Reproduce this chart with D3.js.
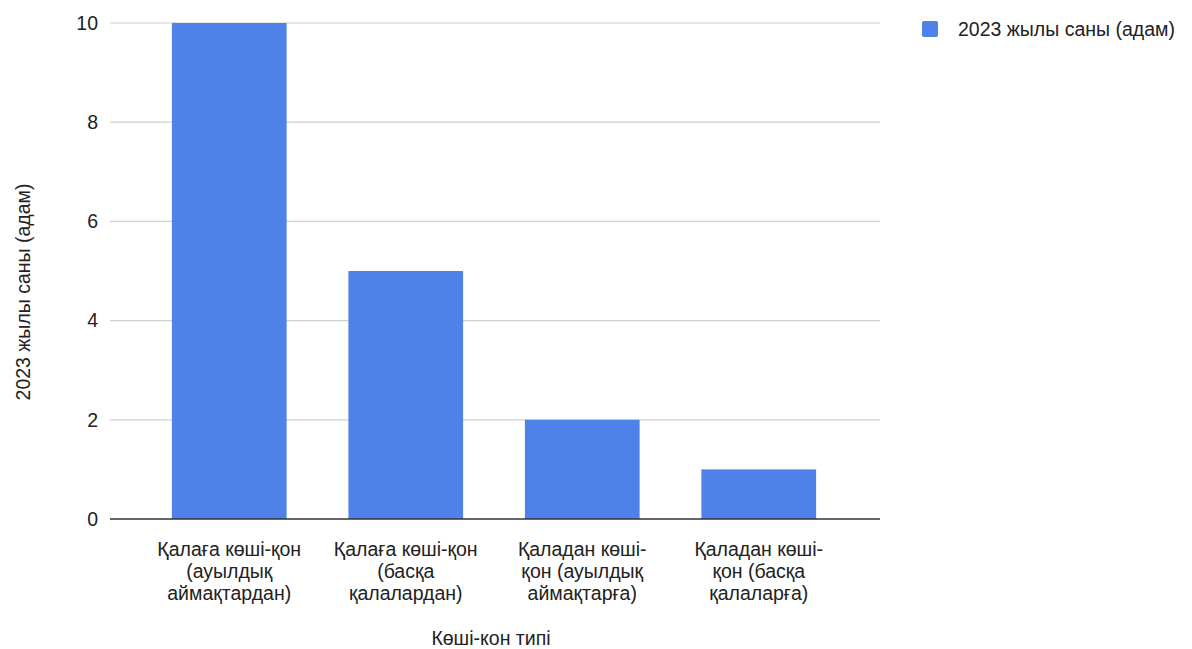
<!DOCTYPE html>
<html><head><meta charset="utf-8">
<script src="https://cdn.jsdelivr.net/npm/d3@7"></script>
<style>body{margin:0;background:#fff}text{font-family:"Liberation Sans",Arial,sans-serif;fill:#222}</style>
</head><body>
<svg id="c" width="1192" height="649"></svg>
<script>
const categories = [
  ["Қалаға көші-қон", "(ауылдық", "аймақтардан)"],
  ["Қалаға көші-қон", "(басқа", "қалалардан)"],
  ["Қаладан көші-", "қон (ауылдық", "аймақтарға)"],
  ["Қаладан көші-", "қон (басқа", "қалаларға)"]
];
const values = [10, 5, 2, 1];
const yTicks = [0, 2, 4, 6, 8, 10];
const seriesName = "2023 жылы саны (адам)";
const xTitle = "Көші-кон типі";
const yTitle = "2023 жылы саны (адам)";

const svg = d3.select("#c");
const color = "#4f82e8";
const fs = 19.5;
const plotL = 110, plotR = 880;
const x = d3.scaleBand().domain(d3.range(categories.length)).range([141, 847])
  .paddingInner(0.35).paddingOuter(0.175);
const y = d3.scaleLinear().domain([0, 10]).range([519, 23]);

// gridlines
svg.append("g").selectAll("line").data(yTicks.filter(t => t !== 0)).join("line")
  .attr("x1", plotL).attr("x2", plotR)
  .attr("y1", d => y(d)).attr("y2", d => y(d))
  .attr("stroke", "#d0d0d0").attr("stroke-width", 1.2);

// y tick labels
svg.append("g").selectAll("text").data(yTicks).join("text")
  .attr("x", 98).attr("y", d => y(d)).attr("dy", "0.35em")
  .attr("text-anchor", "end").attr("font-size", fs).text(d => d);

// bars
svg.append("g").selectAll("rect").data(values).join("rect")
  .attr("x", (d, i) => x(i)).attr("width", x.bandwidth())
  .attr("y", d => y(d)).attr("height", d => y(0) - y(d))
  .attr("fill", color);

// baseline
svg.append("line").attr("x1", plotL).attr("x2", plotR)
  .attr("y1", y(0)).attr("y2", y(0)).attr("stroke", "#333").attr("stroke-width", 1.5);

// x labels
const xl = svg.append("g").selectAll("text").data(categories).join("text")
  .attr("text-anchor", "middle").attr("font-size", fs)
  .attr("x", (d, i) => x(i) + x.bandwidth() / 2).attr("y", 556);
xl.selectAll("tspan").data(d => d).join("tspan")
  .attr("x", function() { return this.parentNode.getAttribute("x"); })
  .attr("dy", (d, i) => i === 0 ? 0 : 22).text(d => d);

// axis titles
svg.append("text").attr("x", 491).attr("y", 645).attr("text-anchor", "middle")
  .attr("font-size", fs).text(xTitle);
svg.append("text").attr("transform", "translate(30,292) rotate(-90)")
  .attr("text-anchor", "middle").attr("font-size", fs).text(yTitle);

// legend
svg.append("rect").attr("x", 922).attr("y", 21).attr("width", 16).attr("height", 16)
  .attr("rx", 2).attr("fill", color);
svg.append("text").attr("x", 958).attr("y", 36).attr("font-size", fs).text(seriesName);
</script>
</body></html>
